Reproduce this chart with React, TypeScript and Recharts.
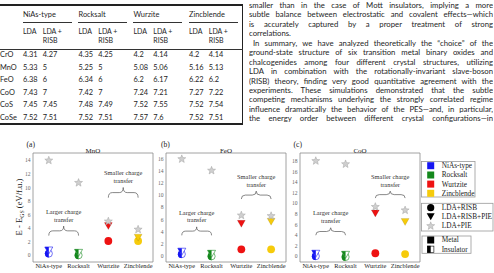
import React from 'react';
import { ScatterChart, Scatter, XAxis, YAxis, ReferenceArea } from 'recharts';

// ---------- data ----------
const structures = ['NiAs-type', 'Rocksalt', 'Wurtzite', 'Zincblende'];
const tableHeads = ['NiAs-type', 'Rocksalt', 'Wurzite', 'Zincblende'];
const compounds = ['CrO', 'MnO', 'FeO', 'CoO', 'CoS', 'CoSe'];
const niasLda = [4.31, 5.33, 6.38, 7.43, 7.45, 7.52];
const niasRisb = [4.27, 5, 6, 7, 7.45, 7.51];
const rocksaltLda = [4.35, 5.25, 6.34, 7.42, 7.48, 7.52];
const rocksaltRisb = [4.25, 5, 6, 7, 7.49, 7.51];
const wurziteLda = [4.2, 5.08, 6.2, 7.24, 7.52, 7.57];
const wurziteRisb = [4.14, 5.06, 6.17, 7.21, 7.55, 7.6];
const zincLda = [4.2, 5.16, 6.22, 7.27, 7.52, 7.52];
const zincRisb = [4.14, 5.13, 6.2, 7.22, 7.54, 7.51];

const paragraphLines = [
  'smaller than in the case of Mott insulators, implying a more',
  'subtle balance between electrostatic and covalent effects\u2014which',
  'is accurately captured by a proper treatment of strong',
  'correlations.',
  'In summary, we have analyzed theoretically the \u201cchoice\u201d of the',
  'ground-state structure of six transition metal binary oxides and',
  'chalcogenides among four different crystal structures, utilizing',
  'LDA in combination with the rotationally-invariant slave-boson',
  '(RISB) theory, finding very good quantitative agreement with the',
  'experiments. These simulations demonstrated that the subtle',
  'competing mechanisms underlying the strongly correlated regime',
  'influence dramatically the behavior of the PES\u2014and, in particular,',
  'the energy order between different crystal configurations\u2014in',
];

const insulating = [true, true, false, false];

const mnoRisb = [0.25, 0.0, 2.1, 2.1];
const mnoRisbPie = [0.7, 0.35, 4.3, 2.6];
const mnoPie = [14.0, 10.7, 5.0, 3.8];
const mnoTicks = [0, 2, 4, 6, 8, 10, 12, 14];

const feoRisb = [0.3, -0.05, 1.1, 1.1];
const feoRisbPie = [0.7, 0.35, 5.3, 5.65];
const feoPie = [16.0, 14.1, 6.7, 6.6];
const feoTicks = [0, 2, 4, 6, 8, 10, 12, 14, 16];

const cooRisb = [0.05, -0.1, 0.6, 0.45];
const cooRisbPie = [0.5, 0.3, 8.1, 6.5];
const cooPie = [18.0, 17.4, 9.35, 8.7];
const cooTicks = [0, 2, 4, 6, 8, 10, 12, 14, 16, 18];

const larger = ['Larger charge', 'transfer'];
const smaller = ['Smaller charge', 'transfer'];
const mnoBraces = [[0, 1, 2.9, 4.3], [2, 3, 8.5, 10.0]];
const feoBraces = [[0, 1, 3.4, 4.8], [2, 3, 9.4, 10.7]];
const cooBraces = [[0, 1, 4.0, 5.4], [2, 3, 11.0, 12.3]];

const methodLabels = ['LDA+RISB', 'LDA+RISB+PIE', 'LDA+PIE'];
const stateLabels = ['Metal', 'Insulator'];

// ---------- styles ----------
const SANS = 'Lato, "Liberation Sans", sans-serif';
const SERIF = '"Liberation Serif", "DejaVu Serif", serif';
const colors = ['#1616f2', '#14881c', '#ee1212', '#f6cb0b'];
const STAR_FILL = '#cfcfcf';
const STAR_STROKE = '#a3a3a3';
const X_DOMAIN: [number, number] = [-0.53, 3.5];

// ---------- shapes ----------
function starPath(cx: number, cy: number, R: number, r: number) {
  let d = '';
  for (let i = 0; i < 10; i++) {
    const rad = i % 2 === 0 ? R : r;
    const a = -Math.PI / 2 + (i * Math.PI) / 5;
    d += (i === 0 ? 'M' : 'L') + (cx + rad * Math.cos(a)).toFixed(2) + ',' + (cy + rad * Math.sin(a)).toFixed(2);
  }
  return d + 'Z';
}

const StarShape = (p: any) => {
  if (p.cx == null) return null;
  return <path d={starPath(p.cx, p.cy, 4.2, 1.8)} fill={STAR_FILL} stroke={STAR_STROKE} strokeWidth={0.5} />;
};

const CircleShape = (p: any) => {
  if (p.cx == null) return null;
  const i = p.payload.x;
  const c = colors[i];
  const r = 3.9;
  if (insulating[i]) {
    return (
      <g>
        <circle cx={p.cx} cy={p.cy} r={r - 0.3} fill="#fff" stroke={c} strokeWidth={0.6} />
        <path d={`M${p.cx},${p.cy - r} A${r},${r} 0 0 0 ${p.cx},${p.cy + r} Z`} fill={c} />
      </g>
    );
  }
  return <circle cx={p.cx} cy={p.cy} r={r} fill={c} />;
};

const TriShape = (p: any) => {
  if (p.cx == null) return null;
  const i = p.payload.x;
  const c = colors[i];
  const w = 8, h = 7;
  const top = p.cy - h / 2, bot = p.cy + h / 2;
  const full = `M${p.cx - w / 2},${top} L${p.cx + w / 2},${top} L${p.cx},${bot} Z`;
  if (insulating[i]) {
    return (
      <g>
        <path d={full} fill="#fff" stroke={c} strokeWidth={0.6} />
        <path d={`M${p.cx - w / 2},${top} L${p.cx},${top} L${p.cx},${bot} Z`} fill={c} />
      </g>
    );
  }
  return <path d={full} fill={c} stroke="rgba(0,0,0,0.25)" strokeWidth={0.4} />;
};

const braceShape = (lines: string[]) => (p: any) => {
  const { x, y, width: w, height: h } = p;
  if (x == null) return null;
  const m = x + w / 2, q = 4, mid = y + h / 2, b = y + h;
  const d = `M${x},${b} Q${x},${mid} ${x + q},${mid} L${m - q},${mid} Q${m},${mid} ${m},${y} Q${m},${mid} ${m + q},${mid} L${x + w - q},${mid} Q${x + w},${mid} ${x + w},${b}`;
  return (
    <g>
      <path d={d} fill="none" stroke="#555" strokeWidth={0.7} />
      <text x={m} y={y - 12.3} textAnchor="middle" fontSize={6.4} fontFamily={SERIF} fill="#333">{lines[0]}</text>
      <text x={m} y={y - 4.6} textAnchor="middle" fontSize={6.4} fontFamily={SERIF} fill="#333">{lines[1]}</text>
    </g>
  );
};

// ---------- panel ----------
type PanelProps = {
  left: number;
  title: string;
  risb: number[];
  risbPie: number[];
  pie: number[];
  yDomain: [number, number];
  yTicks: number[];
  braces: number[][];
};

function Panel({ left, title, risb, risbPie, pie, yDomain, yTicks, braces }: PanelProps) {
  const circles = risb.map((y, x) => ({ x, y }));
  const tris = risbPie.map((y, x) => ({ x, y }));
  const stars = pie.map((y, x) => ({ x, y }));
  return (
    <div style={{ position: 'absolute', left, top: 140 }}>
      <ScatterChart width={158} height={133} margin={{ top: 13, right: 5, bottom: 0, left: 19 }}>
        <XAxis
          type="number"
          dataKey="x"
          domain={X_DOMAIN}
          ticks={[0, 1, 2, 3]}
          interval={0}
          tickFormatter={(v: number) => structures[v]}
          axisLine={false}
          tickLine={false}
          tickSize={0}
          height={11}
          tickMargin={1.5}
          allowDataOverflow
          tick={{ fontSize: 6.4, fill: '#222', fontFamily: SERIF }}
        />
        <YAxis
          type="number"
          dataKey="y"
          domain={yDomain}
          ticks={yTicks}
          interval={0}
          width={14}
          axisLine={false}
          tickLine={false}
          tickSize={0}
          tickMargin={2.5}
          allowDataOverflow
          tick={{ fontSize: 5.6, fill: '#666', fontFamily: SERIF }}
        />
        <ReferenceArea
          x1={X_DOMAIN[0]}
          x2={X_DOMAIN[1]}
          y1={yDomain[0]}
          y2={yDomain[1]}
          fill="none"
          fillOpacity={0}
          stroke="#8a8a8a"
          strokeWidth={0.8}
          ifOverflow="visible"
          label={{ value: title, position: 'top', offset: 0.5, fontSize: 7, fill: '#222', fontFamily: SERIF }}
        />
        {braces.map((b, k) => (
          <ReferenceArea key={k} x1={b[0]} x2={b[1]} y1={b[2]} y2={b[3]} shape={braceShape(k === 0 ? larger : smaller)} />
        ))}
        <Scatter data={circles} shape={CircleShape} isAnimationActive={false} />
        <Scatter data={tris} shape={TriShape} isAnimationActive={false} />
        <Scatter data={stars} shape={StarShape} isAnimationActive={false} />
      </ScatterChart>
    </div>
  );
}

// ---------- table ----------
const groupX = [23, 78.5, 133.5, 189];
const rowY0 = 55;
const rowStep = 12.6;

function Txt({ x, y, children, size = 7.4 }: any) {
  return (
    <div style={{ position: 'absolute', left: x, top: y - 5, height: 10, lineHeight: '10px', whiteSpace: 'nowrap', fontSize: size }}>
      {children}
    </div>
  );
}

function Table() {
  const groups = [
    [niasLda, niasRisb],
    [rocksaltLda, rocksaltRisb],
    [wurziteLda, wurziteRisb],
    [zincLda, zincRisb],
  ];
  return (
    <div style={{ position: 'absolute', left: 0, top: 0, width: 246, height: 130, fontFamily: SANS, color: '#1e1e1e' }}>
      <div style={{ position: 'absolute', left: 0, top: 4, width: 243, height: 1.6, background: '#222' }} />
      <div style={{ position: 'absolute', left: 241.6, top: 4, width: 1.6, height: 121, background: '#222' }} />
      <div style={{ position: 'absolute', left: 0, top: 123.4, width: 243, height: 1.6, background: '#222' }} />
      <div style={{ position: 'absolute', left: 0, top: 48.8, width: 243, height: 0.8, background: '#333' }} />
      {tableHeads.map((h, g) => (
        <React.Fragment key={h}>
          <Txt x={groupX[g]} y={15}>{h}</Txt>
          <div style={{ position: 'absolute', left: groupX[g] - 0.5, top: 21.6, width: 49, height: 0.8, background: '#333' }} />
          <Txt x={groupX[g]} y={31} size={7}>LDA</Txt>
          <Txt x={groupX[g] + 19.8} y={31} size={7}>LDA +</Txt>
          <Txt x={groupX[g] + 19.8} y={40} size={7}>RISB</Txt>
          {compounds.map((c, r) => (
            <React.Fragment key={c}>
              <Txt x={groupX[g]} y={rowY0 + r * rowStep}>{String(groups[g][0][r])}</Txt>
              <Txt x={groupX[g] + 19.8} y={rowY0 + r * rowStep}>{String(groups[g][1][r])}</Txt>
            </React.Fragment>
          ))}
        </React.Fragment>
      ))}
      {compounds.map((c, r) => (
        <Txt key={c} x={0} y={rowY0 + r * rowStep}>{c}</Txt>
      ))}
    </div>
  );
}

function Paragraph() {
  return (
    <div style={{ position: 'absolute', left: 249, top: 1, width: 244, fontFamily: SANS, fontSize: 7.75, color: '#1e1e1e' }}>
      {paragraphLines.map((l, i) => (
        <div
          key={i}
          style={{
            height: 9.44,
            lineHeight: '9.44px',
            overflow: 'hidden',
            textAlign: 'justify',
            textAlignLast: i === 3 ? 'left' : 'justify',
            textIndent: i === 4 ? 4 : 0,
          }}
        >
          {l}
        </div>
      ))}
    </div>
  );
}

// ---------- legend ----------
function Legend() {
  const rowsA = [7.7, 17, 26.1, 35.3];
  const rowsB = [49.7, 58.8, 68];
  const rowsC = [82, 91.3];
  const tx = 23.7;
  const textProps = { fontSize: 7.3, fontFamily: SERIF, fill: '#222' } as any;
  return (
    <svg style={{ position: 'absolute', left: 418, top: 158 }} width={76} height={100}>
      <rect x={3.5} y={3.5} width={53.5} height={35.5} fill="#fff" stroke="#999" strokeWidth={0.8} />
      {structures.map((s, i) => (
        <g key={s}>
          <rect x={9.2} y={rowsA[i] - 3.5} width={7} height={7} fill={colors[i]} />
          <text x={tx} y={rowsA[i] + 2.4} {...textProps}>{s}</text>
        </g>
      ))}
      <rect x={3.5} y={45.3} width={71.5} height={27.7} fill="#fff" stroke="#999" strokeWidth={0.8} />
      <circle cx={12.7} cy={rowsB[0]} r={3.6} fill="#000" />
      <path d={`M${8.7},${rowsB[1] - 3.5} L${16.7},${rowsB[1] - 3.5} L${12.7},${rowsB[1] + 3.5} Z`} fill="#000" />
      <path d={starPath(12.7, rowsB[2], 4.2, 1.8)} fill={STAR_FILL} stroke={STAR_STROKE} strokeWidth={0.5} />
      {methodLabels.map((m, i) => (
        <text key={m} x={tx} y={rowsB[i] + 2.4} {...textProps}>{m}</text>
      ))}
      <rect x={4} y={78} width={49} height={17.3} fill="#fff" stroke="#999" strokeWidth={0.8} />
      <rect x={9.2} y={rowsC[0] - 3.5} width={7} height={7} fill="#000" />
      <rect x={9.5} y={rowsC[1] - 3.2} width={6.4} height={6.4} fill="#fff" stroke="#000" strokeWidth={0.6} />
      <rect x={9.2} y={rowsC[1] - 3.5} width={3.5} height={7} fill="#000" />
      {stateLabels.map((m, i) => (
        <text key={m} x={tx} y={rowsC[i] + 2.4} {...textProps}>{m}</text>
      ))}
    </svg>
  );
}

const panelTag = (x: number, s: string) => (
  <div style={{ position: 'absolute', left: x, top: 140, fontFamily: SERIF, fontSize: 7.6, lineHeight: '10px', color: '#222' }}>{s}</div>
);

function YAxisTitle() {
  return (
    <div
      style={{
        position: 'absolute',
        left: 19 - 45,
        top: 207 - 5,
        width: 90,
        height: 10,
        lineHeight: '10px',
        textAlign: 'center',
        transform: 'rotate(-90deg)',
        fontFamily: SERIF,
        fontSize: 8.6,
        color: '#222',
        whiteSpace: 'nowrap',
      }}
    >
      E - E<sub style={{ fontSize: 5.8, verticalAlign: '-1.5px', lineHeight: 0 }}>GS</sub> (eV/f.u.)
    </div>
  );
}

export default function App() {
  return (
    <div style={{ position: 'absolute', left: 0, top: 0, width: 494, height: 273, overflow: 'hidden', background: '#fff' }}>
      <Table />
      <Paragraph />
      <Panel left={0} title="MnO" risb={mnoRisb} risbPie={mnoRisbPie} pie={mnoPie} yDomain={[-1, 15.1]} yTicks={mnoTicks} braces={mnoBraces} />
      <Panel left={133} title="FeO" risb={feoRisb} risbPie={feoRisbPie} pie={feoPie} yDomain={[-1, 17]} yTicks={feoTicks} braces={feoBraces} />
      <Panel left={267} title="CoO" risb={cooRisb} risbPie={cooRisbPie} pie={cooPie} yDomain={[-1.05, 19.5]} yTicks={cooTicks} braces={cooBraces} />
      <YAxisTitle />
      {panelTag(26.5, '(a)')}
      {panelTag(161, '(b)')}
      {panelTag(293.5, '(c)')}
      <Legend />
    </div>
  );
}
